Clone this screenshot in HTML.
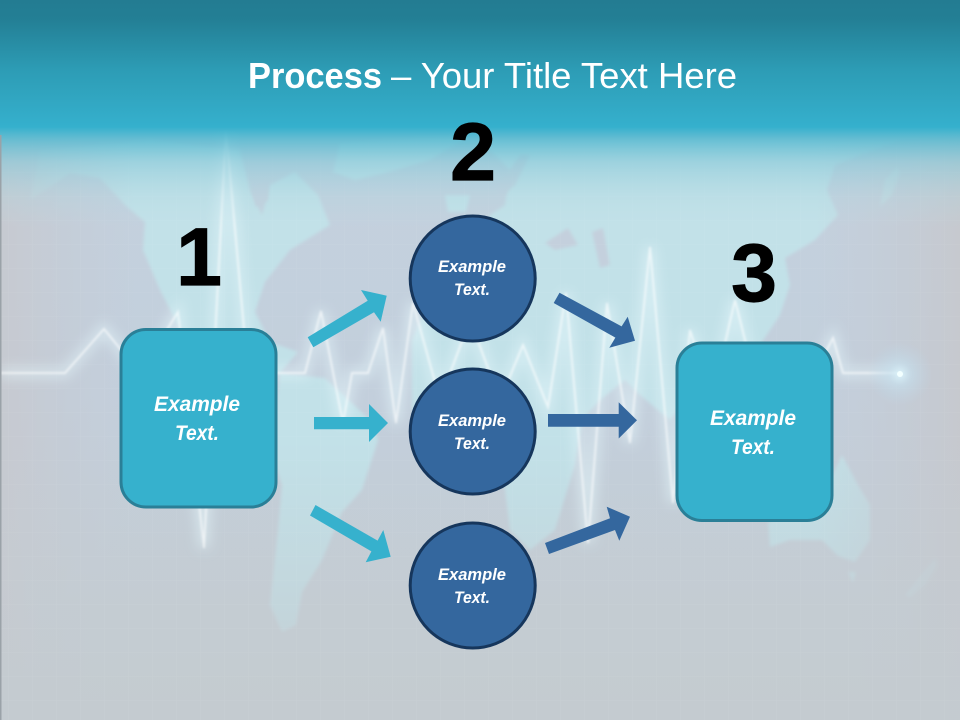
<!DOCTYPE html>
<html lang="en">
<head>
<meta charset="utf-8">
<title>Process</title>
<style>
html,body{margin:0;padding:0;background:#c4cbd1}
svg{display:block}
text{font-family:"Liberation Sans",sans-serif}
</style>
</head>
<body>
<svg xmlns="http://www.w3.org/2000/svg" width="960" height="720" viewBox="0 0 960 720">
<defs>
<linearGradient id="hdr" x1="0" y1="0" x2="0" y2="1">
<stop offset="0" stop-color="#237c92"/>
<stop offset=".15" stop-color="#237f95"/>
<stop offset=".55" stop-color="#2d9cb5"/>
<stop offset="1" stop-color="#35b0cd"/>
</linearGradient>
<linearGradient id="fade" x1="0" y1="0" x2="0" y2="1">
<stop offset="0" stop-color="#35b0cd" stop-opacity="1"/>
<stop offset=".12" stop-color="#55b9d0" stop-opacity=".85"/>
<stop offset=".35" stop-color="#84c8d8" stop-opacity=".6"/>
<stop offset=".7" stop-color="#a8d6e0" stop-opacity=".25"/>
<stop offset="1" stop-color="#b5dce5" stop-opacity="0"/>
</linearGradient>
<linearGradient id="base" x1="0" y1="0" x2="0" y2="1">
<stop offset="0" stop-color="#c4d2df"/>
<stop offset=".55" stop-color="#c3cfdc"/>
<stop offset="1" stop-color="#c4cbd0"/>
</linearGradient>
<linearGradient id="side" x1="0" y1="0" x2="1" y2="0">
<stop offset="0" stop-color="#c7c9cf" stop-opacity=".9"/>
<stop offset=".14" stop-color="#c5cbd5" stop-opacity="0"/>
<stop offset=".85" stop-color="#c5cbd5" stop-opacity="0"/>
<stop offset="1" stop-color="#c6c8cd" stop-opacity=".9"/>
</linearGradient>
<linearGradient id="mapfade" x1="0" y1="0" x2="0" y2="1">
<stop offset="0" stop-color="#c4cdd3" stop-opacity="0"/>
<stop offset="1" stop-color="#c4cbd0" stop-opacity=".9"/>
</linearGradient>
<radialGradient id="halo">
<stop offset="0" stop-color="#ddf4fb" stop-opacity=".95"/>
<stop offset=".35" stop-color="#c6e2f0" stop-opacity=".55"/>
<stop offset="1" stop-color="#bcd8ea" stop-opacity="0"/>
</radialGradient>
<pattern id="grid" width="24" height="24" patternUnits="userSpaceOnUse" x="8" y="4">
<path d="M24 0H0V24" fill="none" stroke="#ffffff" stroke-opacity=".07" stroke-width="1"/>
</pattern>
<filter id="soft" x="-10%" y="-10%" width="120%" height="120%"><feGaussianBlur stdDeviation="1.5"/></filter>
<filter id="glow" x="-10%" y="-10%" width="120%" height="120%"><feGaussianBlur stdDeviation="6"/></filter>
<filter id="glow2" x="-10%" y="-10%" width="120%" height="120%"><feGaussianBlur stdDeviation="1"/></filter>
</defs>

<rect width="960" height="720" fill="url(#base)"/>

<g fill="#c2e1e8" filter="url(#soft)">
<polygon points="30,200 70,173 100,178 125,205 145,222 143,250 160,290 178,325 205,358 240,373 280,373 298,352 270,342 255,312 265,282 290,250 330,225 318,195 295,172 270,185 262,215 250,190 240,150 150,140 40,150"/>
<polygon points="333,172 340,143 470,135 430,160 385,173 355,180"/>
<polygon points="280,373 325,378 370,420 378,440 362,490 342,512 322,560 302,592 296,625 282,632 270,605 278,530 282,485 270,450 276,405"/>
<polygon points="445,195 470,195 466,212 448,212"/>
<polygon points="480,140 900,140 835,165 827,190 838,215 815,240 785,258 790,285 780,315 760,345 745,380 700,380 670,420 640,395 625,380 600,400 582,420 575,465 555,530 530,550 510,530 505,490 495,440 440,440 412,410 412,340 445,262 470,240 490,215 505,205 510,170"/>
<polygon points="880,207 885,180 897,167 900,172 892,195"/>
<polygon points="770,547 768,522 795,510 825,490 842,455 858,485 870,505 870,540 855,562 838,556 822,540 790,540"/>
<polygon points="905,595 925,570 935,558 938,565 925,585 910,598"/>
<polygon points="848,572 856,572 853,583"/>
</g>
<g fill="#c4d0dd" filter="url(#soft)">
<polygon points="545,243 568,228 578,245 555,250"/>
<polygon points="592,232 603,228 610,265 600,268"/>
<polygon points="252,190 268,178 268,200 256,207"/>
<polygon points="495,190 520,155 530,155 515,185 500,198"/>
</g>

<rect width="960" height="720" fill="url(#side)"/>
<rect y="440" width="960" height="280" fill="url(#mapfade)"/>
<rect width="960" height="720" fill="url(#grid)"/>

<g fill="none" stroke-linejoin="miter">
<polyline filter="url(#glow)" stroke="#e3f6fb" stroke-width="10" stroke-opacity=".55" points="0,373 65,373 104,329 140,373 178,312 204,548 226,130 248,373 305,373 321,311 343,423 352,373 368,373 383,328 396,423 413,303 440,400 470,320 500,400 523,345 548,407 566,293 588,543 607,303 630,443 650,247 673,503 690,330 712,400 735,300 760,400 815,373 833,338 843,373 900,373"/>
<polyline filter="url(#glow2)" stroke="#ffffff" stroke-width="2" stroke-opacity=".62" points="0,373 65,373 104,329 140,373 178,312 204,548 226,130 248,373 305,373 321,311 343,423 352,373 368,373 383,328 396,423 413,303 440,400 470,320 500,400 523,345 548,407 566,293 588,543 607,303 630,443 650,247 673,503 690,330 712,400 735,300 760,400 815,373 833,338 843,373 900,373"/>
</g>
<circle cx="900" cy="374" r="32" fill="url(#halo)"/>
<circle cx="900" cy="374" r="3" fill="#f2ffff"/>

<rect x="0" y="127" width="960" height="100" fill="url(#fade)"/>
<rect width="960" height="127" fill="url(#hdr)"/>
<rect x="0" y="135" width="1.5" height="585" fill="#9aa2a8"/>

<text y="88" font-size="36" fill="#ffffff"><tspan x="248" font-weight="700" textLength="134" lengthAdjust="spacingAndGlyphs">Process</tspan><tspan x="391" textLength="346" lengthAdjust="spacingAndGlyphs">– Your Title Text Here</tspan></text>

<g font-size="82" font-weight="700" fill="#000" stroke="#000" stroke-width="1.2" text-anchor="middle">
<text x="199" y="285">1</text>
<text x="473" y="180">2</text>
<text x="754" y="301">3</text>
</g>

<g fill="#36b1cd" stroke="#2a7f97" stroke-width="3">
<rect x="121" y="329.5" width="155" height="177.5" rx="25"/>
<rect x="677" y="343" width="155" height="177.5" rx="25"/>
</g>
<g fill="#34679e" stroke="#16365c" stroke-width="3">
<circle cx="472.7" cy="278.5" r="62.5"/>
<circle cx="472.7" cy="431.5" r="62.5"/>
<circle cx="472.7" cy="585.5" r="62.5"/>
</g>

<g fill="#36b1cd">
<polygon points="307.7,337.3 367.7,300.7 361,290 386.7,295.7 380.7,321.7 374,312.3 313.3,347.3"/>
<polygon points="314,417 369,417 369,404 388,423 369,442 369,429.3 314,429.3"/>
<polygon points="315.5,505 377.6,540.6 383.3,530 390.7,556.7 365.7,562.3 371.4,551.4 310,515.5"/>
</g>
<g fill="#34679e">
<polygon points="559.5,292.8 621.6,326.4 627.7,316.7 635,340.7 609.3,347.7 615.4,337.6 553.7,303"/>
<polygon points="548,414 618.7,414 618.7,402.3 637,420.3 618.7,438.5 618.7,426.7 548,426.7"/>
<polygon points="545,543 610,518.3 606.7,506.7 630,516.7 619.3,540.7 615,530 549,554"/>
</g>

<g fill="#ffffff" font-weight="700" font-style="italic" text-anchor="middle">
<g font-size="21">
<text x="197" y="411" textLength="86" lengthAdjust="spacingAndGlyphs">Example</text>
<text x="197" y="440" textLength="44" lengthAdjust="spacingAndGlyphs">Text.</text>
<text x="753" y="425" textLength="86" lengthAdjust="spacingAndGlyphs">Example</text>
<text x="753" y="454" textLength="44" lengthAdjust="spacingAndGlyphs">Text.</text>
</g>
<g font-size="16.5">
<text x="472" y="272" textLength="68" lengthAdjust="spacingAndGlyphs">Example</text>
<text x="472" y="295" textLength="36" lengthAdjust="spacingAndGlyphs">Text.</text>
<text x="472" y="426" textLength="68" lengthAdjust="spacingAndGlyphs">Example</text>
<text x="472" y="449" textLength="36" lengthAdjust="spacingAndGlyphs">Text.</text>
<text x="472" y="580" textLength="68" lengthAdjust="spacingAndGlyphs">Example</text>
<text x="472" y="603" textLength="36" lengthAdjust="spacingAndGlyphs">Text.</text>
</g>
</g>
</svg>
</body>
</html>
